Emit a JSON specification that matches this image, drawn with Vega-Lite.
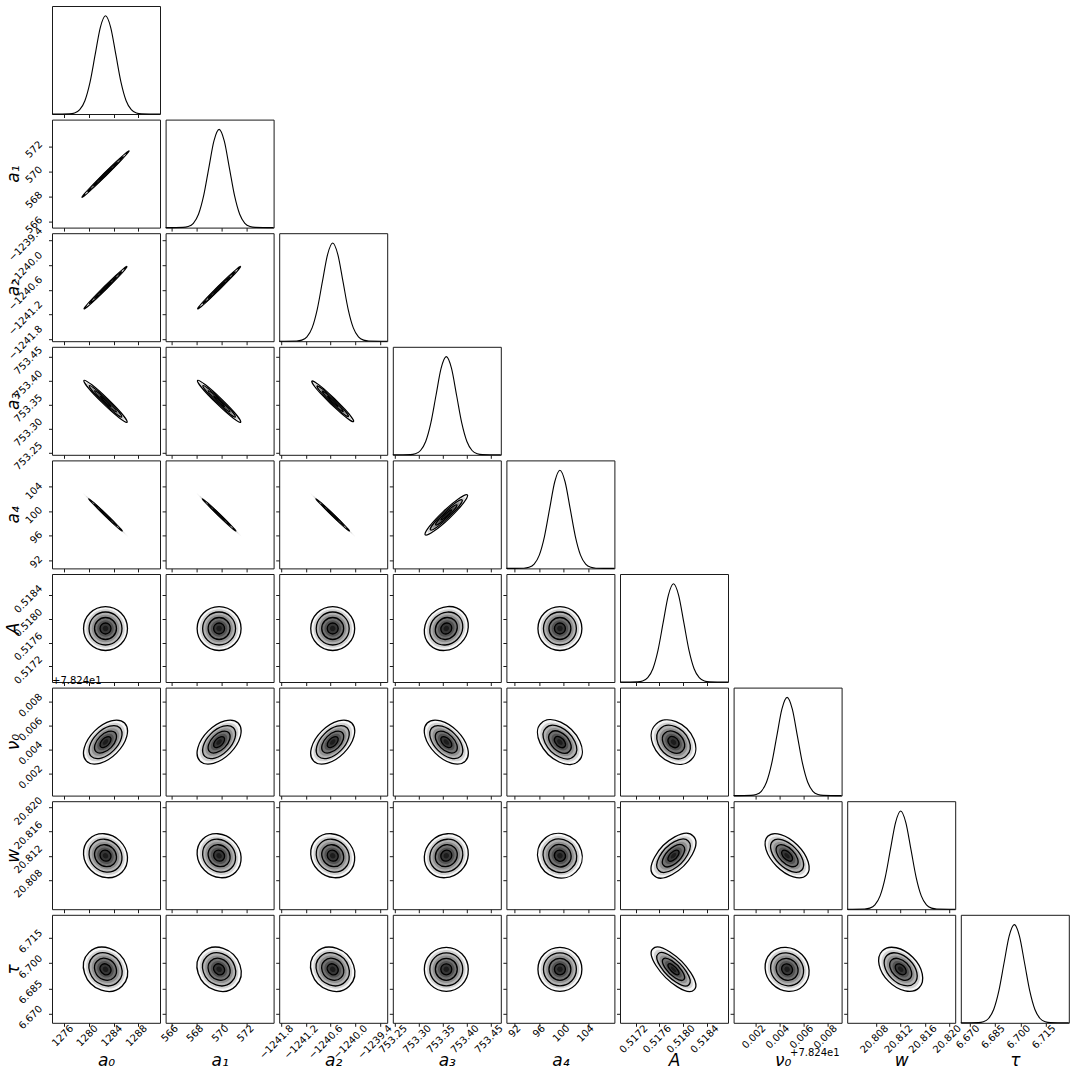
{
"$schema":"https://vega.github.io/schema/vega-lite/v6.json",
"background":"white",
"padding":{"left":3,"top":5,"right":5,"bottom":5},
"datasets":{
"ell":[
{"id":"a1-a0","cx":1282.7,"cy":569.8,"s":[2,1.75,1.5,1.25,1,0.75,0.5,0.25]},
{"id":"a2-a0","cx":1282.7,"cy":-1240.55,"s":[2,1.75,1.5,1.25,1,0.75,0.5,0.25]},
{"id":"a2-a1","cx":569.8,"cy":-1240.55,"s":[2,1.75,1.5,1.25,1,0.75,0.5,0.25]},
{"id":"a3-a0","cx":1282.7,"cy":753.357,"s":[2,1.75,1.5,1.25,1,0.75,0.5,0.25]},
{"id":"a3-a1","cx":569.8,"cy":753.357,"s":[2,1.75,1.5,1.25,1,0.75,0.5,0.25]},
{"id":"a3-a2","cx":-1240.55,"cy":753.357,"s":[2,1.75,1.5,1.25,1,0.75,0.5,0.25]},
{"id":"a4-a0","cx":1282.7,"cy":99.4,"s":[2,1.75,1.5,1.25,1,0.75,0.5,0.25]},
{"id":"a4-a1","cx":569.8,"cy":99.4,"s":[2,1.75,1.5,1.25,1,0.75,0.5,0.25]},
{"id":"a4-a2","cx":-1240.55,"cy":99.4,"s":[2,1.75,1.5,1.25,1,0.75,0.5,0.25]},
{"id":"a4-a3","cx":753.357,"cy":99.4,"s":[2,1.75,1.5,1.25,1,0.75,0.5,0.25]},
{"id":"A-a0","cx":1282.7,"cy":0.517841,"s":[2,1.75,1.5,1.25,1,0.75,0.5,0.25]},
{"id":"A-a1","cx":569.8,"cy":0.517841,"s":[2,1.75,1.5,1.25,1,0.75,0.5,0.25]},
{"id":"A-a2","cx":-1240.55,"cy":0.517841,"s":[2,1.75,1.5,1.25,1,0.75,0.5,0.25]},
{"id":"A-a3","cx":753.357,"cy":0.517841,"s":[2,1.75,1.5,1.25,1,0.75,0.5,0.25]},
{"id":"A-a4","cx":99.4,"cy":0.517841,"s":[2,1.75,1.5,1.25,1,0.75,0.5,0.25]},
{"id":"nu-a0","cx":1282.7,"cy":78.24464,"s":[2,1.75,1.5,1.25,1,0.75,0.5,0.25]},
{"id":"nu-a1","cx":569.8,"cy":78.24464,"s":[2,1.75,1.5,1.25,1,0.75,0.5,0.25]},
{"id":"nu-a2","cx":-1240.55,"cy":78.24464,"s":[2,1.75,1.5,1.25,1,0.75,0.5,0.25]},
{"id":"nu-a3","cx":753.357,"cy":78.24464,"s":[2,1.75,1.5,1.25,1,0.75,0.5,0.25]},
{"id":"nu-a4","cx":99.4,"cy":78.24464,"s":[2,1.75,1.5,1.25,1,0.75,0.5,0.25]},
{"id":"nu-A","cx":0.517841,"cy":78.24464,"s":[2,1.75,1.5,1.25,1,0.75,0.5,0.25]},
{"id":"w-a0","cx":1282.7,"cy":20.812,"s":[2,1.75,1.5,1.25,1,0.75,0.5,0.25]},
{"id":"w-a1","cx":569.8,"cy":20.812,"s":[2,1.75,1.5,1.25,1,0.75,0.5,0.25]},
{"id":"w-a2","cx":-1240.55,"cy":20.812,"s":[2,1.75,1.5,1.25,1,0.75,0.5,0.25]},
{"id":"w-a3","cx":753.357,"cy":20.812,"s":[2,1.75,1.5,1.25,1,0.75,0.5,0.25]},
{"id":"w-a4","cx":99.4,"cy":20.812,"s":[2,1.75,1.5,1.25,1,0.75,0.5,0.25]},
{"id":"w-A","cx":0.517841,"cy":20.812,"s":[2,1.75,1.5,1.25,1,0.75,0.5,0.25]},
{"id":"w-nu","cx":78.24464,"cy":20.812,"s":[2,1.75,1.5,1.25,1,0.75,0.5,0.25]},
{"id":"tau-a0","cx":1282.7,"cy":6.69644,"s":[2,1.75,1.5,1.25,1,0.75,0.5,0.25]},
{"id":"tau-a1","cx":569.8,"cy":6.69644,"s":[2,1.75,1.5,1.25,1,0.75,0.5,0.25]},
{"id":"tau-a2","cx":-1240.55,"cy":6.69644,"s":[2,1.75,1.5,1.25,1,0.75,0.5,0.25]},
{"id":"tau-a3","cx":753.357,"cy":6.69644,"s":[2,1.75,1.5,1.25,1,0.75,0.5,0.25]},
{"id":"tau-a4","cx":99.4,"cy":6.69644,"s":[2,1.75,1.5,1.25,1,0.75,0.5,0.25]},
{"id":"tau-A","cx":0.517841,"cy":6.69644,"s":[2,1.75,1.5,1.25,1,0.75,0.5,0.25]},
{"id":"tau-nu","cx":78.24464,"cy":6.69644,"s":[2,1.75,1.5,1.25,1,0.75,0.5,0.25]},
{"id":"tau-w","cx":20.812,"cy":6.69644,"s":[2,1.75,1.5,1.25,1,0.75,0.5,0.25]}
],
"hist":[
{"p":"a0","x":[1274.0,1276.834,1277.672,1278.51,1279.348,1280.186,1281.024,1281.862,1282.7,1283.538,1284.376,1285.214,1286.052,1286.89,1287.728,1288.566,1291.56],"y":[0,0.0022,0.0111,0.0439,0.1353,0.3247,0.6065,0.8825,1,0.8825,0.6065,0.3247,0.1353,0.0439,0.0111,0.0022,0]},
{"p":"a1","x":[565.554,566.938,567.348,567.756,568.165,568.574,568.982,569.391,569.8,570.209,570.618,571.026,571.435,571.844,572.252,572.662,574.125],"y":[0,0.0022,0.0111,0.0439,0.1353,0.3247,0.6065,0.8825,1,0.8825,0.6065,0.3247,0.1353,0.0439,0.0111,0.0022,0]},
{"p":"a2","x":[-1241.855,-1241.4296,-1241.304,-1241.1783,-1241.0526,-1240.927,-1240.8013,-1240.6757,-1240.55,-1240.4243,-1240.2987,-1240.173,-1240.0474,-1239.9217,-1239.796,-1239.6704,-1239.221],"y":[0,0.0022,0.0111,0.0439,0.1353,0.3247,0.6065,0.8825,1,0.8825,0.6065,0.3247,0.1353,0.0439,0.0111,0.0022,0]},
{"p":"a3","x":[753.2451,753.2816,753.2923,753.3031,753.3139,753.3247,753.3355,753.3462,753.357,753.3678,753.3785,753.3893,753.4001,753.4109,753.4217,753.4324,753.471],"y":[0,0.0022,0.0111,0.0439,0.1353,0.3247,0.6065,0.8825,1,0.8825,0.6065,0.3247,0.1353,0.0439,0.0111,0.0022,0]},
{"p":"a4","x":[90.63,93.4885,94.333,95.1775,96.022,96.8665,97.711,98.5555,99.4,100.2445,101.089,101.9335,102.778,103.6225,104.467,105.3115,108.33],"y":[0,0.0022,0.0111,0.0439,0.1353,0.3247,0.6065,0.8825,1,0.8825,0.6065,0.3247,0.1353,0.0439,0.0111,0.0022,0]},
{"p":"A","x":[0.516938,0.5172323,0.5173192,0.5174062,0.5174932,0.5175801,0.5176671,0.517754,0.517841,0.517928,0.5180149,0.5181019,0.5181888,0.5182758,0.5183627,0.5184497,0.518761],"y":[0,0.0022,0.0111,0.0439,0.1353,0.3247,0.6065,0.8825,1,0.8825,0.6065,0.3247,0.1353,0.0439,0.0111,0.0022,0]},
{"p":"nu","x":[78.240163,78.2416216,78.2420528,78.242484,78.2429152,78.2433464,78.2437776,78.2442088,78.24464,78.2450712,78.2455024,78.2459336,78.2463648,78.246796,78.2472272,78.2476584,78.2492],"y":[0,0.0022,0.0111,0.0439,0.1353,0.3247,0.6065,0.8825,1,0.8825,0.6065,0.3247,0.1353,0.0439,0.0111,0.0022,0]},
{"p":"w","x":[20.80316,20.8060416,20.8068928,20.807744,20.8085952,20.8094464,20.8102976,20.8111488,20.812,20.8128512,20.8137024,20.8145536,20.8154048,20.816256,20.8171072,20.8179584,20.82101],"y":[0,0.0022,0.0111,0.0439,0.1353,0.3247,0.6065,0.8825,1,0.8825,0.6065,0.3247,0.1353,0.0439,0.0111,0.0022,0]},
{"p":"tau","x":[6.66473,6.6750634,6.6781172,6.681171,6.6842248,6.6872786,6.6903324,6.6933862,6.69644,6.6994938,6.7025476,6.7056014,6.7086552,6.711709,6.7147628,6.7178166,6.72874],"y":[0,0.0022,0.0111,0.0439,0.1353,0.3247,0.6065,0.8825,1,0.8825,0.6065,0.3247,0.1353,0.0439,0.0111,0.0022,0]}
]
},
"data":{"name":"ell"},
"transform":[{"flatten":["s"]}],
"columns":9,
"spacing":5.6,
"bounds":"flush",
"resolve":{"scale":{"x":"independent","y":"independent"},"axis":{"x":"independent","y":"independent"}},
"concat":[
{"width":108,"height":108,"data":{"name":"hist"},"transform":[{"filter":"datum.p=='a0'"},{"flatten":["x","y"]}],"mark":{"type":"line"},"encoding":{"x":{"field":"x","type":"quantitative","scale":{"domain":[1274.0,1291.56],"nice":false,"zero":false},"axis":{"values":[1276,1280,1284,1288],"labels":false,"title":null}},"y":{"field":"y","type":"quantitative","scale":{"domain":[0,1.1],"nice":false},"axis":null}}},
{"width":108,"height":108,"data":{"values":[]},"mark":"point","encoding":{},"view":{"stroke":null}},
{"width":108,"height":108,"data":{"values":[]},"mark":"point","encoding":{},"view":{"stroke":null}},
{"width":108,"height":108,"data":{"values":[]},"mark":"point","encoding":{},"view":{"stroke":null}},
{"width":108,"height":108,"data":{"values":[]},"mark":"point","encoding":{},"view":{"stroke":null}},
{"width":108,"height":108,"data":{"values":[]},"mark":"point","encoding":{},"view":{"stroke":null}},
{"width":108,"height":108,"data":{"values":[]},"mark":"point","encoding":{},"view":{"stroke":null}},
{"width":108,"height":108,"data":{"values":[]},"mark":"point","encoding":{},"view":{"stroke":null}},
{"width":108,"height":108,"data":{"values":[]},"mark":"point","encoding":{},"view":{"stroke":null}},

{"width":108,"height":108,"transform":[{"filter":"datum.id=='a1-a0'"}],"mark":{"type":"point","shape":"M0.435,-0.429A0.611,0.026,-44.6,1,1,-0.435,0.429A0.611,0.026,-44.6,1,1,0.435,-0.429Z"},"encoding":{"x":{"field":"cx","type":"quantitative","scale":{"domain":[1274.0,1291.56],"nice":false,"zero":false},"axis":{"values":[1276,1280,1284,1288],"labels":false,"title":null}},"y":{"field":"cy","type":"quantitative","scale":{"domain":[565.554,574.125],"nice":false,"zero":false},"axis":{"values":[566,568,570,572],"format":"d","labelOffset":-4,"title":"a₁"}},"size":{"field":"s","type":"quantitative","scale":{"type":"pow","exponent":2,"domain":[0,2],"range":[0,11664]},"legend":null},"fill":{"field":"s","type":"quantitative","scale":{"domain":[0.25,2],"range":["#1c1c1c","#f6f6f6"]},"legend":null},"stroke":{"condition":{"test":"datum.s%0.5==0","value":"#000"},"value":"transparent"},"order":{"field":"s","sort":"descending"}}},
{"width":108,"height":108,"data":{"name":"hist"},"transform":[{"filter":"datum.p=='a1'"},{"flatten":["x","y"]}],"mark":{"type":"line"},"encoding":{"x":{"field":"x","type":"quantitative","scale":{"domain":[565.554,574.125],"nice":false,"zero":false},"axis":{"values":[566,568,570,572],"labels":false,"title":null}},"y":{"field":"y","type":"quantitative","scale":{"domain":[0,1.1],"nice":false},"axis":null}}},
{"width":108,"height":108,"data":{"values":[]},"mark":"point","encoding":{},"view":{"stroke":null}},
{"width":108,"height":108,"data":{"values":[]},"mark":"point","encoding":{},"view":{"stroke":null}},
{"width":108,"height":108,"data":{"values":[]},"mark":"point","encoding":{},"view":{"stroke":null}},
{"width":108,"height":108,"data":{"values":[]},"mark":"point","encoding":{},"view":{"stroke":null}},
{"width":108,"height":108,"data":{"values":[]},"mark":"point","encoding":{},"view":{"stroke":null}},
{"width":108,"height":108,"data":{"values":[]},"mark":"point","encoding":{},"view":{"stroke":null}},
{"width":108,"height":108,"data":{"values":[]},"mark":"point","encoding":{},"view":{"stroke":null}},

{"width":108,"height":108,"transform":[{"filter":"datum.id=='a2-a0'"}],"mark":{"type":"point","shape":"M0.395,-0.391A0.556,0.028,-44.7,1,1,-0.395,0.391A0.556,0.028,-44.7,1,1,0.395,-0.391Z"},"encoding":{"x":{"field":"cx","type":"quantitative","scale":{"domain":[1274.0,1291.56],"nice":false,"zero":false},"axis":{"values":[1276,1280,1284,1288],"labels":false,"title":null}},"y":{"field":"cy","type":"quantitative","scale":{"domain":[-1241.855,-1239.221],"nice":false,"zero":false},"axis":{"values":[-1241.8,-1241.2,-1240.6,-1240,-1239.4],"format":".1f","labelOffset":-12,"title":"a₂"}},"size":{"field":"s","type":"quantitative","scale":{"type":"pow","exponent":2,"domain":[0,2],"range":[0,11664]},"legend":null},"fill":{"field":"s","type":"quantitative","scale":{"domain":[0.25,2],"range":["#1c1c1c","#f6f6f6"]},"legend":null},"stroke":{"condition":{"test":"datum.s%0.5==0","value":"#000"},"value":"transparent"},"order":{"field":"s","sort":"descending"}}},
{"width":108,"height":108,"transform":[{"filter":"datum.id=='a2-a1'"}],"mark":{"type":"point","shape":"M0.395,-0.391A0.556,0.028,-44.7,1,1,-0.395,0.391A0.556,0.028,-44.7,1,1,0.395,-0.391Z"},"encoding":{"x":{"field":"cx","type":"quantitative","scale":{"domain":[565.554,574.125],"nice":false,"zero":false},"axis":{"values":[566,568,570,572],"labels":false,"title":null}},"y":{"field":"cy","type":"quantitative","scale":{"domain":[-1241.855,-1239.221],"nice":false,"zero":false},"axis":{"values":[-1241.8,-1241.2,-1240.6,-1240,-1239.4],"labels":false,"title":null}},"size":{"field":"s","type":"quantitative","scale":{"type":"pow","exponent":2,"domain":[0,2],"range":[0,11664]},"legend":null},"fill":{"field":"s","type":"quantitative","scale":{"domain":[0.25,2],"range":["#1c1c1c","#f6f6f6"]},"legend":null},"stroke":{"condition":{"test":"datum.s%0.5==0","value":"#000"},"value":"transparent"},"order":{"field":"s","sort":"descending"}}},
{"width":108,"height":108,"data":{"name":"hist"},"transform":[{"filter":"datum.p=='a2'"},{"flatten":["x","y"]}],"mark":{"type":"line"},"encoding":{"x":{"field":"x","type":"quantitative","scale":{"domain":[-1241.855,-1239.221],"nice":false,"zero":false},"axis":{"values":[-1241.8,-1241.2,-1240.6,-1240,-1239.4],"labels":false,"title":null}},"y":{"field":"y","type":"quantitative","scale":{"domain":[0,1.1],"nice":false},"axis":null}}},
{"width":108,"height":108,"data":{"values":[]},"mark":"point","encoding":{},"view":{"stroke":null}},
{"width":108,"height":108,"data":{"values":[]},"mark":"point","encoding":{},"view":{"stroke":null}},
{"width":108,"height":108,"data":{"values":[]},"mark":"point","encoding":{},"view":{"stroke":null}},
{"width":108,"height":108,"data":{"values":[]},"mark":"point","encoding":{},"view":{"stroke":null}},
{"width":108,"height":108,"data":{"values":[]},"mark":"point","encoding":{},"view":{"stroke":null}},
{"width":108,"height":108,"data":{"values":[]},"mark":"point","encoding":{},"view":{"stroke":null}},

{"width":108,"height":108,"transform":[{"filter":"datum.id=='a3-a0'"}],"mark":{"type":"point","shape":"M0.399,0.388A0.556,0.059,44.2,1,1,-0.399,-0.388A0.556,0.059,44.2,1,1,0.399,0.388Z"},"encoding":{"x":{"field":"cx","type":"quantitative","scale":{"domain":[1274.0,1291.56],"nice":false,"zero":false},"axis":{"values":[1276,1280,1284,1288],"labels":false,"title":null}},"y":{"field":"cy","type":"quantitative","scale":{"domain":[753.2451,753.471],"nice":false,"zero":false},"axis":{"values":[753.25,753.3,753.35,753.4,753.45],"format":".2f","labelOffset":-9,"title":"a₃"}},"size":{"field":"s","type":"quantitative","scale":{"type":"pow","exponent":2,"domain":[0,2],"range":[0,11664]},"legend":null},"fill":{"field":"s","type":"quantitative","scale":{"domain":[0.25,2],"range":["#1c1c1c","#f6f6f6"]},"legend":null},"stroke":{"condition":{"test":"datum.s%0.5==0","value":"#000"},"value":"transparent"},"order":{"field":"s","sort":"descending"}}},
{"width":108,"height":108,"transform":[{"filter":"datum.id=='a3-a1'"}],"mark":{"type":"point","shape":"M0.399,0.388A0.556,0.059,44.2,1,1,-0.399,-0.388A0.556,0.059,44.2,1,1,0.399,0.388Z"},"encoding":{"x":{"field":"cx","type":"quantitative","scale":{"domain":[565.554,574.125],"nice":false,"zero":false},"axis":{"values":[566,568,570,572],"labels":false,"title":null}},"y":{"field":"cy","type":"quantitative","scale":{"domain":[753.2451,753.471],"nice":false,"zero":false},"axis":{"values":[753.25,753.3,753.35,753.4,753.45],"labels":false,"title":null}},"size":{"field":"s","type":"quantitative","scale":{"type":"pow","exponent":2,"domain":[0,2],"range":[0,11664]},"legend":null},"fill":{"field":"s","type":"quantitative","scale":{"domain":[0.25,2],"range":["#1c1c1c","#f6f6f6"]},"legend":null},"stroke":{"condition":{"test":"datum.s%0.5==0","value":"#000"},"value":"transparent"},"order":{"field":"s","sort":"descending"}}},
{"width":108,"height":108,"transform":[{"filter":"datum.id=='a3-a2'"}],"mark":{"type":"point","shape":"M0.385,0.374A0.537,0.056,44.2,1,1,-0.385,-0.374A0.537,0.056,44.2,1,1,0.385,0.374Z"},"encoding":{"x":{"field":"cx","type":"quantitative","scale":{"domain":[-1241.855,-1239.221],"nice":false,"zero":false},"axis":{"values":[-1241.8,-1241.2,-1240.6,-1240,-1239.4],"labels":false,"title":null}},"y":{"field":"cy","type":"quantitative","scale":{"domain":[753.2451,753.471],"nice":false,"zero":false},"axis":{"values":[753.25,753.3,753.35,753.4,753.45],"labels":false,"title":null}},"size":{"field":"s","type":"quantitative","scale":{"type":"pow","exponent":2,"domain":[0,2],"range":[0,11664]},"legend":null},"fill":{"field":"s","type":"quantitative","scale":{"domain":[0.25,2],"range":["#1c1c1c","#f6f6f6"]},"legend":null},"stroke":{"condition":{"test":"datum.s%0.5==0","value":"#000"},"value":"transparent"},"order":{"field":"s","sort":"descending"}}},
{"width":108,"height":108,"data":{"name":"hist"},"transform":[{"filter":"datum.p=='a3'"},{"flatten":["x","y"]}],"mark":{"type":"line"},"encoding":{"x":{"field":"x","type":"quantitative","scale":{"domain":[753.2451,753.471],"nice":false,"zero":false},"axis":{"values":[753.25,753.3,753.35,753.4,753.45],"labels":false,"title":null}},"y":{"field":"y","type":"quantitative","scale":{"domain":[0,1.1],"nice":false},"axis":null}}},
{"width":108,"height":108,"data":{"values":[]},"mark":"point","encoding":{},"view":{"stroke":null}},
{"width":108,"height":108,"data":{"values":[]},"mark":"point","encoding":{},"view":{"stroke":null}},
{"width":108,"height":108,"data":{"values":[]},"mark":"point","encoding":{},"view":{"stroke":null}},
{"width":108,"height":108,"data":{"values":[]},"mark":"point","encoding":{},"view":{"stroke":null}},
{"width":108,"height":108,"data":{"values":[]},"mark":"point","encoding":{},"view":{"stroke":null}},

{"width":108,"height":108,"transform":[{"filter":"datum.id=='a4-a0'"}],"mark":{"type":"point","shape":"M0.413,0.399A0.574,0.024,44,1,1,-0.413,-0.399A0.574,0.024,44,1,1,0.413,0.399Z"},"encoding":{"x":{"field":"cx","type":"quantitative","scale":{"domain":[1274.0,1291.56],"nice":false,"zero":false},"axis":{"values":[1276,1280,1284,1288],"labels":false,"title":null}},"y":{"field":"cy","type":"quantitative","scale":{"domain":[90.63,108.33],"nice":false,"zero":false},"axis":{"values":[92,96,100,104],"format":"d","labelOffset":-3,"title":"a₄"}},"size":{"field":"s","type":"quantitative","scale":{"type":"pow","exponent":2,"domain":[0,2],"range":[0,11664]},"legend":null},"fill":{"field":"s","type":"quantitative","scale":{"domain":[0.25,2],"range":["#1c1c1c","#f6f6f6"]},"legend":null},"stroke":{"condition":{"test":"datum.s%0.5==0&&datum.s<2","value":"#000"},"value":"transparent"},"order":{"field":"s","sort":"descending"}}},
{"width":108,"height":108,"transform":[{"filter":"datum.id=='a4-a1'"}],"mark":{"type":"point","shape":"M0.413,0.399A0.574,0.024,44,1,1,-0.413,-0.399A0.574,0.024,44,1,1,0.413,0.399Z"},"encoding":{"x":{"field":"cx","type":"quantitative","scale":{"domain":[565.554,574.125],"nice":false,"zero":false},"axis":{"values":[566,568,570,572],"labels":false,"title":null}},"y":{"field":"cy","type":"quantitative","scale":{"domain":[90.63,108.33],"nice":false,"zero":false},"axis":{"values":[92,96,100,104],"labels":false,"title":null}},"size":{"field":"s","type":"quantitative","scale":{"type":"pow","exponent":2,"domain":[0,2],"range":[0,11664]},"legend":null},"fill":{"field":"s","type":"quantitative","scale":{"domain":[0.25,2],"range":["#1c1c1c","#f6f6f6"]},"legend":null},"stroke":{"condition":{"test":"datum.s%0.5==0&&datum.s<2","value":"#000"},"value":"transparent"},"order":{"field":"s","sort":"descending"}}},
{"width":108,"height":108,"transform":[{"filter":"datum.id=='a4-a2'"}],"mark":{"type":"point","shape":"M0.413,0.399A0.574,0.024,44,1,1,-0.413,-0.399A0.574,0.024,44,1,1,0.413,0.399Z"},"encoding":{"x":{"field":"cx","type":"quantitative","scale":{"domain":[-1241.855,-1239.221],"nice":false,"zero":false},"axis":{"values":[-1241.8,-1241.2,-1240.6,-1240,-1239.4],"labels":false,"title":null}},"y":{"field":"cy","type":"quantitative","scale":{"domain":[90.63,108.33],"nice":false,"zero":false},"axis":{"values":[92,96,100,104],"labels":false,"title":null}},"size":{"field":"s","type":"quantitative","scale":{"type":"pow","exponent":2,"domain":[0,2],"range":[0,11664]},"legend":null},"fill":{"field":"s","type":"quantitative","scale":{"domain":[0.25,2],"range":["#1c1c1c","#f6f6f6"]},"legend":null},"stroke":{"condition":{"test":"datum.s%0.5==0&&datum.s<2","value":"#000"},"value":"transparent"},"order":{"field":"s","sort":"descending"}}},
{"width":108,"height":108,"transform":[{"filter":"datum.id=='a4-a3'"}],"mark":{"type":"point","shape":"M0.390,-0.370A0.537,0.083,-43.5,1,1,-0.390,0.370A0.537,0.083,-43.5,1,1,0.390,-0.370Z"},"encoding":{"x":{"field":"cx","type":"quantitative","scale":{"domain":[753.2451,753.471],"nice":false,"zero":false},"axis":{"values":[753.25,753.3,753.35,753.4,753.45],"labels":false,"title":null}},"y":{"field":"cy","type":"quantitative","scale":{"domain":[90.63,108.33],"nice":false,"zero":false},"axis":{"values":[92,96,100,104],"labels":false,"title":null}},"size":{"field":"s","type":"quantitative","scale":{"type":"pow","exponent":2,"domain":[0,2],"range":[0,11664]},"legend":null},"fill":{"field":"s","type":"quantitative","scale":{"domain":[0.25,2],"range":["#1c1c1c","#f6f6f6"]},"legend":null},"stroke":{"condition":{"test":"datum.s%0.5==0","value":"#000"},"value":"transparent"},"order":{"field":"s","sort":"descending"}}},
{"width":108,"height":108,"data":{"name":"hist"},"transform":[{"filter":"datum.p=='a4'"},{"flatten":["x","y"]}],"mark":{"type":"line"},"encoding":{"x":{"field":"x","type":"quantitative","scale":{"domain":[90.63,108.33],"nice":false,"zero":false},"axis":{"values":[92,96,100,104],"labels":false,"title":null}},"y":{"field":"y","type":"quantitative","scale":{"domain":[0,1.1],"nice":false},"axis":null}}},
{"width":108,"height":108,"data":{"values":[]},"mark":"point","encoding":{},"view":{"stroke":null}},
{"width":108,"height":108,"data":{"values":[]},"mark":"point","encoding":{},"view":{"stroke":null}},
{"width":108,"height":108,"data":{"values":[]},"mark":"point","encoding":{},"view":{"stroke":null}},
{"width":108,"height":108,"data":{"values":[]},"mark":"point","encoding":{},"view":{"stroke":null}},

{"width":108,"height":108,"transform":[{"filter":"datum.id=='A-a0'"}],"mark":{"type":"point","shape":"M-0.407,0A0.407,0.407,0,1,1,0.407,0A0.407,0.407,0,1,1,-0.407,0Z"},"encoding":{"x":{"field":"cx","type":"quantitative","scale":{"domain":[1274.0,1291.56],"nice":false,"zero":false},"axis":{"values":[1276,1280,1284,1288],"labels":false,"title":null}},"y":{"field":"cy","type":"quantitative","scale":{"domain":[0.516938,0.518761],"nice":false,"zero":false},"axis":{"values":[0.5172,0.5176,0.518,0.5184],"format":".4f","labelOffset":-9,"title":"A"}},"size":{"field":"s","type":"quantitative","scale":{"type":"pow","exponent":2,"domain":[0,2],"range":[0,11664]},"legend":null},"fill":{"field":"s","type":"quantitative","scale":{"domain":[0.25,2],"range":["#1c1c1c","#f6f6f6"]},"legend":null},"stroke":{"condition":{"test":"datum.s%0.5==0","value":"#000"},"value":"transparent"},"order":{"field":"s","sort":"descending"}}},
{"width":108,"height":108,"transform":[{"filter":"datum.id=='A-a1'"}],"mark":{"type":"point","shape":"M-0.407,0A0.407,0.407,0,1,1,0.407,0A0.407,0.407,0,1,1,-0.407,0Z"},"encoding":{"x":{"field":"cx","type":"quantitative","scale":{"domain":[565.554,574.125],"nice":false,"zero":false},"axis":{"values":[566,568,570,572],"labels":false,"title":null}},"y":{"field":"cy","type":"quantitative","scale":{"domain":[0.516938,0.518761],"nice":false,"zero":false},"axis":{"values":[0.5172,0.5176,0.518,0.5184],"labels":false,"title":null}},"size":{"field":"s","type":"quantitative","scale":{"type":"pow","exponent":2,"domain":[0,2],"range":[0,11664]},"legend":null},"fill":{"field":"s","type":"quantitative","scale":{"domain":[0.25,2],"range":["#1c1c1c","#f6f6f6"]},"legend":null},"stroke":{"condition":{"test":"datum.s%0.5==0","value":"#000"},"value":"transparent"},"order":{"field":"s","sort":"descending"}}},
{"width":108,"height":108,"transform":[{"filter":"datum.id=='A-a2'"}],"mark":{"type":"point","shape":"M-0.407,0A0.407,0.407,0,1,1,0.407,0A0.407,0.407,0,1,1,-0.407,0Z"},"encoding":{"x":{"field":"cx","type":"quantitative","scale":{"domain":[-1241.855,-1239.221],"nice":false,"zero":false},"axis":{"values":[-1241.8,-1241.2,-1240.6,-1240,-1239.4],"labels":false,"title":null}},"y":{"field":"cy","type":"quantitative","scale":{"domain":[0.516938,0.518761],"nice":false,"zero":false},"axis":{"values":[0.5172,0.5176,0.518,0.5184],"labels":false,"title":null}},"size":{"field":"s","type":"quantitative","scale":{"type":"pow","exponent":2,"domain":[0,2],"range":[0,11664]},"legend":null},"fill":{"field":"s","type":"quantitative","scale":{"domain":[0.25,2],"range":["#1c1c1c","#f6f6f6"]},"legend":null},"stroke":{"condition":{"test":"datum.s%0.5==0","value":"#000"},"value":"transparent"},"order":{"field":"s","sort":"descending"}}},
{"width":108,"height":108,"transform":[{"filter":"datum.id=='A-a3'"}],"mark":{"type":"point","shape":"M0.305,-0.305A0.431,0.382,-45,1,1,-0.305,0.305A0.431,0.382,-45,1,1,0.305,-0.305Z"},"encoding":{"x":{"field":"cx","type":"quantitative","scale":{"domain":[753.2451,753.471],"nice":false,"zero":false},"axis":{"values":[753.25,753.3,753.35,753.4,753.45],"labels":false,"title":null}},"y":{"field":"cy","type":"quantitative","scale":{"domain":[0.516938,0.518761],"nice":false,"zero":false},"axis":{"values":[0.5172,0.5176,0.518,0.5184],"labels":false,"title":null}},"size":{"field":"s","type":"quantitative","scale":{"type":"pow","exponent":2,"domain":[0,2],"range":[0,11664]},"legend":null},"fill":{"field":"s","type":"quantitative","scale":{"domain":[0.25,2],"range":["#1c1c1c","#f6f6f6"]},"legend":null},"stroke":{"condition":{"test":"datum.s%0.5==0","value":"#000"},"value":"transparent"},"order":{"field":"s","sort":"descending"}}},
{"width":108,"height":108,"transform":[{"filter":"datum.id=='A-a4'"}],"mark":{"type":"point","shape":"M-0.407,0A0.407,0.407,0,1,1,0.407,0A0.407,0.407,0,1,1,-0.407,0Z"},"encoding":{"x":{"field":"cx","type":"quantitative","scale":{"domain":[90.63,108.33],"nice":false,"zero":false},"axis":{"values":[92,96,100,104],"labels":false,"title":null}},"y":{"field":"cy","type":"quantitative","scale":{"domain":[0.516938,0.518761],"nice":false,"zero":false},"axis":{"values":[0.5172,0.5176,0.518,0.5184],"labels":false,"title":null}},"size":{"field":"s","type":"quantitative","scale":{"type":"pow","exponent":2,"domain":[0,2],"range":[0,11664]},"legend":null},"fill":{"field":"s","type":"quantitative","scale":{"domain":[0.25,2],"range":["#1c1c1c","#f6f6f6"]},"legend":null},"stroke":{"condition":{"test":"datum.s%0.5==0","value":"#000"},"value":"transparent"},"order":{"field":"s","sort":"descending"}}},
{"width":108,"height":108,"data":{"name":"hist"},"transform":[{"filter":"datum.p=='A'"},{"flatten":["x","y"]}],"mark":{"type":"line"},"encoding":{"x":{"field":"x","type":"quantitative","scale":{"domain":[0.516938,0.518761],"nice":false,"zero":false},"axis":{"values":[0.5172,0.5176,0.518,0.5184],"labels":false,"title":null}},"y":{"field":"y","type":"quantitative","scale":{"domain":[0,1.1],"nice":false},"axis":null}}},
{"width":108,"height":108,"data":{"values":[]},"mark":"point","encoding":{},"view":{"stroke":null}},
{"width":108,"height":108,"data":{"values":[]},"mark":"point","encoding":{},"view":{"stroke":null}},
{"width":108,"height":108,"data":{"values":[]},"mark":"point","encoding":{},"view":{"stroke":null}},

{"width":108,"height":108,"title":{"text":"+7.824e1","orient":"top","anchor":"start","frame":"group","offset":2,"fontSize":10},"transform":[{"filter":"datum.id=='nu-a0'"}],"mark":{"type":"point","shape":"M0.353,-0.353A0.499,0.288,-45,1,1,-0.353,0.353A0.499,0.288,-45,1,1,0.353,-0.353Z"},"encoding":{"x":{"field":"cx","type":"quantitative","scale":{"domain":[1274.0,1291.56],"nice":false,"zero":false},"axis":{"values":[1276,1280,1284,1288],"labels":false,"title":null}},"y":{"field":"cy","type":"quantitative","scale":{"domain":[78.240163,78.2492],"nice":false,"zero":false},"axis":{"values":[78.242,78.244,78.246,78.248],"labelExpr":"format(datum.value-78.24,'.3f')","labelOffset":-7,"title":"ν₀"}},"size":{"field":"s","type":"quantitative","scale":{"type":"pow","exponent":2,"domain":[0,2],"range":[0,11664]},"legend":null},"fill":{"field":"s","type":"quantitative","scale":{"domain":[0.25,2],"range":["#1c1c1c","#f6f6f6"]},"legend":null},"stroke":{"condition":{"test":"datum.s%0.5==0","value":"#000"},"value":"transparent"},"order":{"field":"s","sort":"descending"}}},
{"width":108,"height":108,"transform":[{"filter":"datum.id=='nu-a1'"}],"mark":{"type":"point","shape":"M0.353,-0.353A0.499,0.288,-45,1,1,-0.353,0.353A0.499,0.288,-45,1,1,0.353,-0.353Z"},"encoding":{"x":{"field":"cx","type":"quantitative","scale":{"domain":[565.554,574.125],"nice":false,"zero":false},"axis":{"values":[566,568,570,572],"labels":false,"title":null}},"y":{"field":"cy","type":"quantitative","scale":{"domain":[78.240163,78.2492],"nice":false,"zero":false},"axis":{"values":[78.242,78.244,78.246,78.248],"labels":false,"title":null}},"size":{"field":"s","type":"quantitative","scale":{"type":"pow","exponent":2,"domain":[0,2],"range":[0,11664]},"legend":null},"fill":{"field":"s","type":"quantitative","scale":{"domain":[0.25,2],"range":["#1c1c1c","#f6f6f6"]},"legend":null},"stroke":{"condition":{"test":"datum.s%0.5==0","value":"#000"},"value":"transparent"},"order":{"field":"s","sort":"descending"}}},
{"width":108,"height":108,"transform":[{"filter":"datum.id=='nu-a2'"}],"mark":{"type":"point","shape":"M0.353,-0.353A0.499,0.288,-45,1,1,-0.353,0.353A0.499,0.288,-45,1,1,0.353,-0.353Z"},"encoding":{"x":{"field":"cx","type":"quantitative","scale":{"domain":[-1241.855,-1239.221],"nice":false,"zero":false},"axis":{"values":[-1241.8,-1241.2,-1240.6,-1240,-1239.4],"labels":false,"title":null}},"y":{"field":"cy","type":"quantitative","scale":{"domain":[78.240163,78.2492],"nice":false,"zero":false},"axis":{"values":[78.242,78.244,78.246,78.248],"labels":false,"title":null}},"size":{"field":"s","type":"quantitative","scale":{"type":"pow","exponent":2,"domain":[0,2],"range":[0,11664]},"legend":null},"fill":{"field":"s","type":"quantitative","scale":{"domain":[0.25,2],"range":["#1c1c1c","#f6f6f6"]},"legend":null},"stroke":{"condition":{"test":"datum.s%0.5==0","value":"#000"},"value":"transparent"},"order":{"field":"s","sort":"descending"}}},
{"width":108,"height":108,"transform":[{"filter":"datum.id=='nu-a3'"}],"mark":{"type":"point","shape":"M0.353,0.353A0.499,0.288,45,1,1,-0.353,-0.353A0.499,0.288,45,1,1,0.353,0.353Z"},"encoding":{"x":{"field":"cx","type":"quantitative","scale":{"domain":[753.2451,753.471],"nice":false,"zero":false},"axis":{"values":[753.25,753.3,753.35,753.4,753.45],"labels":false,"title":null}},"y":{"field":"cy","type":"quantitative","scale":{"domain":[78.240163,78.2492],"nice":false,"zero":false},"axis":{"values":[78.242,78.244,78.246,78.248],"labels":false,"title":null}},"size":{"field":"s","type":"quantitative","scale":{"type":"pow","exponent":2,"domain":[0,2],"range":[0,11664]},"legend":null},"fill":{"field":"s","type":"quantitative","scale":{"domain":[0.25,2],"range":["#1c1c1c","#f6f6f6"]},"legend":null},"stroke":{"condition":{"test":"datum.s%0.5==0","value":"#000"},"value":"transparent"},"order":{"field":"s","sort":"descending"}}},
{"width":108,"height":108,"transform":[{"filter":"datum.id=='nu-a4'"}],"mark":{"type":"point","shape":"M0.347,0.347A0.491,0.303,45,1,1,-0.347,-0.347A0.491,0.303,45,1,1,0.347,0.347Z"},"encoding":{"x":{"field":"cx","type":"quantitative","scale":{"domain":[90.63,108.33],"nice":false,"zero":false},"axis":{"values":[92,96,100,104],"labels":false,"title":null}},"y":{"field":"cy","type":"quantitative","scale":{"domain":[78.240163,78.2492],"nice":false,"zero":false},"axis":{"values":[78.242,78.244,78.246,78.248],"labels":false,"title":null}},"size":{"field":"s","type":"quantitative","scale":{"type":"pow","exponent":2,"domain":[0,2],"range":[0,11664]},"legend":null},"fill":{"field":"s","type":"quantitative","scale":{"domain":[0.25,2],"range":["#1c1c1c","#f6f6f6"]},"legend":null},"stroke":{"condition":{"test":"datum.s%0.5==0","value":"#000"},"value":"transparent"},"order":{"field":"s","sort":"descending"}}},
{"width":108,"height":108,"transform":[{"filter":"datum.id=='nu-A'"}],"mark":{"type":"point","shape":"M0.328,0.328A0.464,0.341,45,1,1,-0.328,-0.328A0.464,0.341,45,1,1,0.328,0.328Z"},"encoding":{"x":{"field":"cx","type":"quantitative","scale":{"domain":[0.516938,0.518761],"nice":false,"zero":false},"axis":{"values":[0.5172,0.5176,0.518,0.5184],"labels":false,"title":null}},"y":{"field":"cy","type":"quantitative","scale":{"domain":[78.240163,78.2492],"nice":false,"zero":false},"axis":{"values":[78.242,78.244,78.246,78.248],"labels":false,"title":null}},"size":{"field":"s","type":"quantitative","scale":{"type":"pow","exponent":2,"domain":[0,2],"range":[0,11664]},"legend":null},"fill":{"field":"s","type":"quantitative","scale":{"domain":[0.25,2],"range":["#1c1c1c","#f6f6f6"]},"legend":null},"stroke":{"condition":{"test":"datum.s%0.5==0","value":"#000"},"value":"transparent"},"order":{"field":"s","sort":"descending"}}},
{"width":108,"height":108,"data":{"name":"hist"},"transform":[{"filter":"datum.p=='nu'"},{"flatten":["x","y"]}],"mark":{"type":"line"},"encoding":{"x":{"field":"x","type":"quantitative","scale":{"domain":[78.240163,78.2492],"nice":false,"zero":false},"axis":{"values":[78.242,78.244,78.246,78.248],"labels":false,"title":null}},"y":{"field":"y","type":"quantitative","scale":{"domain":[0,1.1],"nice":false},"axis":null}}},
{"width":108,"height":108,"data":{"values":[]},"mark":"point","encoding":{},"view":{"stroke":null}},
{"width":108,"height":108,"data":{"values":[]},"mark":"point","encoding":{},"view":{"stroke":null}},

{"width":108,"height":108,"transform":[{"filter":"datum.id=='w-a0'"}],"mark":{"type":"point","shape":"M0.305,0.305A0.431,0.382,45,1,1,-0.305,-0.305A0.431,0.382,45,1,1,0.305,0.305Z"},"encoding":{"x":{"field":"cx","type":"quantitative","scale":{"domain":[1274.0,1291.56],"nice":false,"zero":false},"axis":{"values":[1276,1280,1284,1288],"labels":false,"title":null}},"y":{"field":"cy","type":"quantitative","scale":{"domain":[20.80316,20.82101],"nice":false,"zero":false},"axis":{"values":[20.808,20.812,20.816,20.82],"format":".3f","labelOffset":-9,"title":"w"}},"size":{"field":"s","type":"quantitative","scale":{"type":"pow","exponent":2,"domain":[0,2],"range":[0,11664]},"legend":null},"fill":{"field":"s","type":"quantitative","scale":{"domain":[0.25,2],"range":["#1c1c1c","#f6f6f6"]},"legend":null},"stroke":{"condition":{"test":"datum.s%0.5==0","value":"#000"},"value":"transparent"},"order":{"field":"s","sort":"descending"}}},
{"width":108,"height":108,"transform":[{"filter":"datum.id=='w-a1'"}],"mark":{"type":"point","shape":"M0.305,0.305A0.431,0.382,45,1,1,-0.305,-0.305A0.431,0.382,45,1,1,0.305,0.305Z"},"encoding":{"x":{"field":"cx","type":"quantitative","scale":{"domain":[565.554,574.125],"nice":false,"zero":false},"axis":{"values":[566,568,570,572],"labels":false,"title":null}},"y":{"field":"cy","type":"quantitative","scale":{"domain":[20.80316,20.82101],"nice":false,"zero":false},"axis":{"values":[20.808,20.812,20.816,20.82],"labels":false,"title":null}},"size":{"field":"s","type":"quantitative","scale":{"type":"pow","exponent":2,"domain":[0,2],"range":[0,11664]},"legend":null},"fill":{"field":"s","type":"quantitative","scale":{"domain":[0.25,2],"range":["#1c1c1c","#f6f6f6"]},"legend":null},"stroke":{"condition":{"test":"datum.s%0.5==0","value":"#000"},"value":"transparent"},"order":{"field":"s","sort":"descending"}}},
{"width":108,"height":108,"transform":[{"filter":"datum.id=='w-a2'"}],"mark":{"type":"point","shape":"M0.305,0.305A0.431,0.382,45,1,1,-0.305,-0.305A0.431,0.382,45,1,1,0.305,0.305Z"},"encoding":{"x":{"field":"cx","type":"quantitative","scale":{"domain":[-1241.855,-1239.221],"nice":false,"zero":false},"axis":{"values":[-1241.8,-1241.2,-1240.6,-1240,-1239.4],"labels":false,"title":null}},"y":{"field":"cy","type":"quantitative","scale":{"domain":[20.80316,20.82101],"nice":false,"zero":false},"axis":{"values":[20.808,20.812,20.816,20.82],"labels":false,"title":null}},"size":{"field":"s","type":"quantitative","scale":{"type":"pow","exponent":2,"domain":[0,2],"range":[0,11664]},"legend":null},"fill":{"field":"s","type":"quantitative","scale":{"domain":[0.25,2],"range":["#1c1c1c","#f6f6f6"]},"legend":null},"stroke":{"condition":{"test":"datum.s%0.5==0","value":"#000"},"value":"transparent"},"order":{"field":"s","sort":"descending"}}},
{"width":108,"height":108,"transform":[{"filter":"datum.id=='w-a3'"}],"mark":{"type":"point","shape":"M0.302,-0.302A0.427,0.387,-45,1,1,-0.302,0.302A0.427,0.387,-45,1,1,0.302,-0.302Z"},"encoding":{"x":{"field":"cx","type":"quantitative","scale":{"domain":[753.2451,753.471],"nice":false,"zero":false},"axis":{"values":[753.25,753.3,753.35,753.4,753.45],"labels":false,"title":null}},"y":{"field":"cy","type":"quantitative","scale":{"domain":[20.80316,20.82101],"nice":false,"zero":false},"axis":{"values":[20.808,20.812,20.816,20.82],"labels":false,"title":null}},"size":{"field":"s","type":"quantitative","scale":{"type":"pow","exponent":2,"domain":[0,2],"range":[0,11664]},"legend":null},"fill":{"field":"s","type":"quantitative","scale":{"domain":[0.25,2],"range":["#1c1c1c","#f6f6f6"]},"legend":null},"stroke":{"condition":{"test":"datum.s%0.5==0","value":"#000"},"value":"transparent"},"order":{"field":"s","sort":"descending"}}},
{"width":108,"height":108,"transform":[{"filter":"datum.id=='w-a4'"}],"mark":{"type":"point","shape":"M0.299,0.299A0.423,0.391,45,1,1,-0.299,-0.299A0.423,0.391,45,1,1,0.299,0.299Z"},"encoding":{"x":{"field":"cx","type":"quantitative","scale":{"domain":[90.63,108.33],"nice":false,"zero":false},"axis":{"values":[92,96,100,104],"labels":false,"title":null}},"y":{"field":"cy","type":"quantitative","scale":{"domain":[20.80316,20.82101],"nice":false,"zero":false},"axis":{"values":[20.808,20.812,20.816,20.82],"labels":false,"title":null}},"size":{"field":"s","type":"quantitative","scale":{"type":"pow","exponent":2,"domain":[0,2],"range":[0,11664]},"legend":null},"fill":{"field":"s","type":"quantitative","scale":{"domain":[0.25,2],"range":["#1c1c1c","#f6f6f6"]},"legend":null},"stroke":{"condition":{"test":"datum.s%0.5==0","value":"#000"},"value":"transparent"},"order":{"field":"s","sort":"descending"}}},
{"width":108,"height":108,"transform":[{"filter":"datum.id=='w-A'"}],"mark":{"type":"point","shape":"M0.364,-0.364A0.515,0.258,-45,1,1,-0.364,0.364A0.515,0.258,-45,1,1,0.364,-0.364Z"},"encoding":{"x":{"field":"cx","type":"quantitative","scale":{"domain":[0.516938,0.518761],"nice":false,"zero":false},"axis":{"values":[0.5172,0.5176,0.518,0.5184],"labels":false,"title":null}},"y":{"field":"cy","type":"quantitative","scale":{"domain":[20.80316,20.82101],"nice":false,"zero":false},"axis":{"values":[20.808,20.812,20.816,20.82],"labels":false,"title":null}},"size":{"field":"s","type":"quantitative","scale":{"type":"pow","exponent":2,"domain":[0,2],"range":[0,11664]},"legend":null},"fill":{"field":"s","type":"quantitative","scale":{"domain":[0.25,2],"range":["#1c1c1c","#f6f6f6"]},"legend":null},"stroke":{"condition":{"test":"datum.s%0.5==0","value":"#000"},"value":"transparent"},"order":{"field":"s","sort":"descending"}}},
{"width":108,"height":108,"transform":[{"filter":"datum.id=='w-nu'"}],"mark":{"type":"point","shape":"M0.359,0.359A0.507,0.274,45,1,1,-0.359,-0.359A0.507,0.274,45,1,1,0.359,0.359Z"},"encoding":{"x":{"field":"cx","type":"quantitative","scale":{"domain":[78.240163,78.2492],"nice":false,"zero":false},"axis":{"values":[78.242,78.244,78.246,78.248],"labels":false,"title":null}},"y":{"field":"cy","type":"quantitative","scale":{"domain":[20.80316,20.82101],"nice":false,"zero":false},"axis":{"values":[20.808,20.812,20.816,20.82],"labels":false,"title":null}},"size":{"field":"s","type":"quantitative","scale":{"type":"pow","exponent":2,"domain":[0,2],"range":[0,11664]},"legend":null},"fill":{"field":"s","type":"quantitative","scale":{"domain":[0.25,2],"range":["#1c1c1c","#f6f6f6"]},"legend":null},"stroke":{"condition":{"test":"datum.s%0.5==0","value":"#000"},"value":"transparent"},"order":{"field":"s","sort":"descending"}}},
{"width":108,"height":108,"data":{"name":"hist"},"transform":[{"filter":"datum.p=='w'"},{"flatten":["x","y"]}],"mark":{"type":"line"},"encoding":{"x":{"field":"x","type":"quantitative","scale":{"domain":[20.80316,20.82101],"nice":false,"zero":false},"axis":{"values":[20.808,20.812,20.816,20.82],"labels":false,"title":null}},"y":{"field":"y","type":"quantitative","scale":{"domain":[0,1.1],"nice":false},"axis":null}}},
{"width":108,"height":108,"data":{"values":[]},"mark":"point","encoding":{},"view":{"stroke":null}},

{"width":108,"height":108,"transform":[{"filter":"datum.id=='tau-a0'"}],"mark":{"type":"point","shape":"M0.309,0.309A0.437,0.376,45,1,1,-0.309,-0.309A0.437,0.376,45,1,1,0.309,0.309Z"},"encoding":{"x":{"field":"cx","type":"quantitative","scale":{"domain":[1274.0,1291.56],"nice":false,"zero":false},"axis":{"values":[1276,1280,1284,1288],"format":"d","labelOffset":7,"title":"a₀"}},"y":{"field":"cy","type":"quantitative","scale":{"domain":[6.66473,6.72874],"nice":false,"zero":false},"axis":{"values":[6.67,6.685,6.7,6.715],"format":".3f","labelOffset":-7,"title":"τ"}},"size":{"field":"s","type":"quantitative","scale":{"type":"pow","exponent":2,"domain":[0,2],"range":[0,11664]},"legend":null},"fill":{"field":"s","type":"quantitative","scale":{"domain":[0.25,2],"range":["#1c1c1c","#f6f6f6"]},"legend":null},"stroke":{"condition":{"test":"datum.s%0.5==0","value":"#000"},"value":"transparent"},"order":{"field":"s","sort":"descending"}}},
{"width":108,"height":108,"transform":[{"filter":"datum.id=='tau-a1'"}],"mark":{"type":"point","shape":"M0.309,0.309A0.437,0.376,45,1,1,-0.309,-0.309A0.437,0.376,45,1,1,0.309,0.309Z"},"encoding":{"x":{"field":"cx","type":"quantitative","scale":{"domain":[565.554,574.125],"nice":false,"zero":false},"axis":{"values":[566,568,570,572],"format":"d","labelOffset":5,"title":"a₁"}},"y":{"field":"cy","type":"quantitative","scale":{"domain":[6.66473,6.72874],"nice":false,"zero":false},"axis":{"values":[6.67,6.685,6.7,6.715],"labels":false,"title":null}},"size":{"field":"s","type":"quantitative","scale":{"type":"pow","exponent":2,"domain":[0,2],"range":[0,11664]},"legend":null},"fill":{"field":"s","type":"quantitative","scale":{"domain":[0.25,2],"range":["#1c1c1c","#f6f6f6"]},"legend":null},"stroke":{"condition":{"test":"datum.s%0.5==0","value":"#000"},"value":"transparent"},"order":{"field":"s","sort":"descending"}}},
{"width":108,"height":108,"transform":[{"filter":"datum.id=='tau-a2'"}],"mark":{"type":"point","shape":"M0.309,0.309A0.437,0.376,45,1,1,-0.309,-0.309A0.437,0.376,45,1,1,0.309,0.309Z"},"encoding":{"x":{"field":"cx","type":"quantitative","scale":{"domain":[-1241.855,-1239.221],"nice":false,"zero":false},"axis":{"values":[-1241.8,-1241.2,-1240.6,-1240,-1239.4],"format":".1f","labelOffset":10,"title":"a₂"}},"y":{"field":"cy","type":"quantitative","scale":{"domain":[6.66473,6.72874],"nice":false,"zero":false},"axis":{"values":[6.67,6.685,6.7,6.715],"labels":false,"title":null}},"size":{"field":"s","type":"quantitative","scale":{"type":"pow","exponent":2,"domain":[0,2],"range":[0,11664]},"legend":null},"fill":{"field":"s","type":"quantitative","scale":{"domain":[0.25,2],"range":["#1c1c1c","#f6f6f6"]},"legend":null},"stroke":{"condition":{"test":"datum.s%0.5==0","value":"#000"},"value":"transparent"},"order":{"field":"s","sort":"descending"}}},
{"width":108,"height":108,"transform":[{"filter":"datum.id=='tau-a3'"}],"mark":{"type":"point","shape":"M-0.407,0A0.407,0.407,0,1,1,0.407,0A0.407,0.407,0,1,1,-0.407,0Z"},"encoding":{"x":{"field":"cx","type":"quantitative","scale":{"domain":[753.2451,753.471],"nice":false,"zero":false},"axis":{"values":[753.25,753.3,753.35,753.4,753.45],"format":".2f","labelOffset":10,"title":"a₃"}},"y":{"field":"cy","type":"quantitative","scale":{"domain":[6.66473,6.72874],"nice":false,"zero":false},"axis":{"values":[6.67,6.685,6.7,6.715],"labels":false,"title":null}},"size":{"field":"s","type":"quantitative","scale":{"type":"pow","exponent":2,"domain":[0,2],"range":[0,11664]},"legend":null},"fill":{"field":"s","type":"quantitative","scale":{"domain":[0.25,2],"range":["#1c1c1c","#f6f6f6"]},"legend":null},"stroke":{"condition":{"test":"datum.s%0.5==0","value":"#000"},"value":"transparent"},"order":{"field":"s","sort":"descending"}}},
{"width":108,"height":108,"transform":[{"filter":"datum.id=='tau-a4'"}],"mark":{"type":"point","shape":"M-0.407,0A0.407,0.407,0,1,1,0.407,0A0.407,0.407,0,1,1,-0.407,0Z"},"encoding":{"x":{"field":"cx","type":"quantitative","scale":{"domain":[90.63,108.33],"nice":false,"zero":false},"axis":{"values":[92,96,100,104],"format":"d","labelOffset":4,"title":"a₄"}},"y":{"field":"cy","type":"quantitative","scale":{"domain":[6.66473,6.72874],"nice":false,"zero":false},"axis":{"values":[6.67,6.685,6.7,6.715],"labels":false,"title":null}},"size":{"field":"s","type":"quantitative","scale":{"type":"pow","exponent":2,"domain":[0,2],"range":[0,11664]},"legend":null},"fill":{"field":"s","type":"quantitative","scale":{"domain":[0.25,2],"range":["#1c1c1c","#f6f6f6"]},"legend":null},"stroke":{"condition":{"test":"datum.s%0.5==0","value":"#000"},"value":"transparent"},"order":{"field":"s","sort":"descending"}}},
{"width":108,"height":108,"transform":[{"filter":"datum.id=='tau-A'"}],"mark":{"type":"point","shape":"M0.381,0.381A0.539,0.204,45,1,1,-0.381,-0.381A0.539,0.204,45,1,1,0.381,0.381Z"},"encoding":{"x":{"field":"cx","type":"quantitative","scale":{"domain":[0.516938,0.518761],"nice":false,"zero":false},"axis":{"values":[0.5172,0.5176,0.518,0.5184],"format":".4f","labelOffset":10,"title":"A"}},"y":{"field":"cy","type":"quantitative","scale":{"domain":[6.66473,6.72874],"nice":false,"zero":false},"axis":{"values":[6.67,6.685,6.7,6.715],"labels":false,"title":null}},"size":{"field":"s","type":"quantitative","scale":{"type":"pow","exponent":2,"domain":[0,2],"range":[0,11664]},"legend":null},"fill":{"field":"s","type":"quantitative","scale":{"domain":[0.25,2],"range":["#1c1c1c","#f6f6f6"]},"legend":null},"stroke":{"condition":{"test":"datum.s%0.5==0","value":"#000"},"value":"transparent"},"order":{"field":"s","sort":"descending"}}},
{"width":108,"height":108,"title":{"text":"+7.824e1","orient":"bottom","anchor":"end","frame":"group","offset":-21,"fontSize":10,"dx":-2},"transform":[{"filter":"datum.id=='tau-nu'"}],"mark":{"type":"point","shape":"M0.302,0.302A0.427,0.387,45,1,1,-0.302,-0.302A0.427,0.387,45,1,1,0.302,0.302Z"},"encoding":{"x":{"field":"cx","type":"quantitative","scale":{"domain":[78.240163,78.2492],"nice":false,"zero":false},"axis":{"values":[78.242,78.244,78.246,78.248],"labelExpr":"format(datum.value-78.24,'.3f')","labelOffset":8,"title":"ν₀","titleX":49}},"y":{"field":"cy","type":"quantitative","scale":{"domain":[6.66473,6.72874],"nice":false,"zero":false},"axis":{"values":[6.67,6.685,6.7,6.715],"labels":false,"title":null}},"size":{"field":"s","type":"quantitative","scale":{"type":"pow","exponent":2,"domain":[0,2],"range":[0,11664]},"legend":null},"fill":{"field":"s","type":"quantitative","scale":{"domain":[0.25,2],"range":["#1c1c1c","#f6f6f6"]},"legend":null},"stroke":{"condition":{"test":"datum.s%0.5==0","value":"#000"},"value":"transparent"},"order":{"field":"s","sort":"descending"}}},
{"width":108,"height":108,"transform":[{"filter":"datum.id=='tau-w'"}],"mark":{"type":"point","shape":"M0.341,0.341A0.482,0.316,45,1,1,-0.341,-0.341A0.482,0.316,45,1,1,0.341,0.341Z"},"encoding":{"x":{"field":"cx","type":"quantitative","scale":{"domain":[20.80316,20.82101],"nice":false,"zero":false},"axis":{"values":[20.808,20.812,20.816,20.82],"format":".3f","labelOffset":10,"title":"w"}},"y":{"field":"cy","type":"quantitative","scale":{"domain":[6.66473,6.72874],"nice":false,"zero":false},"axis":{"values":[6.67,6.685,6.7,6.715],"labels":false,"title":null}},"size":{"field":"s","type":"quantitative","scale":{"type":"pow","exponent":2,"domain":[0,2],"range":[0,11664]},"legend":null},"fill":{"field":"s","type":"quantitative","scale":{"domain":[0.25,2],"range":["#1c1c1c","#f6f6f6"]},"legend":null},"stroke":{"condition":{"test":"datum.s%0.5==0","value":"#000"},"value":"transparent"},"order":{"field":"s","sort":"descending"}}},
{"width":108,"height":108,"data":{"name":"hist"},"transform":[{"filter":"datum.p=='tau'"},{"flatten":["x","y"]}],"mark":{"type":"line"},"encoding":{"x":{"field":"x","type":"quantitative","scale":{"domain":[6.66473,6.72874],"nice":false,"zero":false},"axis":{"values":[6.67,6.685,6.7,6.715],"format":".3f","labelOffset":8,"title":"τ"}},"y":{"field":"y","type":"quantitative","scale":{"domain":[0,1.1],"nice":false},"axis":null}}}
],
"config":{
"view":{"stroke":"#1a1a1a","strokeWidth":1},
"point":{"filled":true,"opacity":1,"strokeWidth":1.3},
"line":{"color":"#000","strokeWidth":1.1,"interpolate":"monotone"},
"axis":{"grid":false,"domain":false,"ticks":true,"tickSize":3.5,"tickWidth":1,"tickColor":"#1a1a1a","labelFont":"DejaVu Sans","labelFontSize":10,"labelColor":"#000","labelAngle":-45,"labelAlign":"right","labelBaseline":"middle","labelOverlap":false,"labelFlush":false,"titleFont":"DejaVu Sans","titleFontSize":17,"titleFontWeight":"normal","titleFontStyle":"italic","titleColor":"#000"},
"axisX":{"labelPadding":0,"titleY":43,"titleBaseline":"alphabetic"},
"axisY":{"labelPadding":8,"titleX":-34,"titleBaseline":"alphabetic","titleAngle":-90},
"title":{"font":"DejaVu Sans","fontSize":10,"fontWeight":"normal","color":"#000"}
}
}
